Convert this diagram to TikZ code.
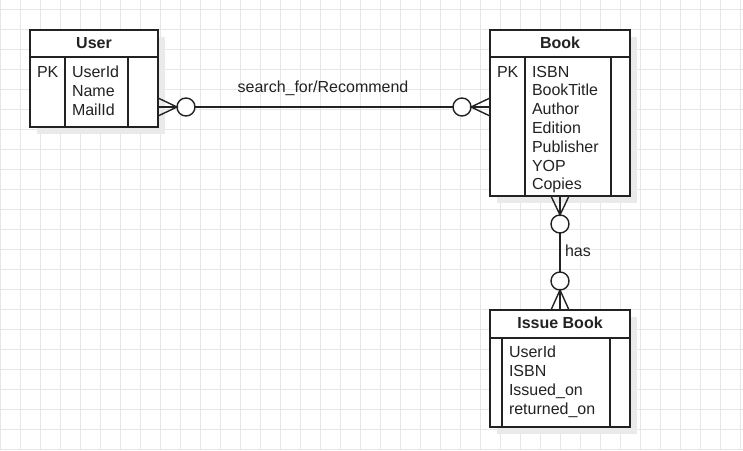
\documentclass[tikz,border=0pt]{standalone}
\usepackage{fontspec}
\setmainfont{Liberation Sans}
\usetikzlibrary{shadows}
\definecolor{gridc}{HTML}{E6E6E6}
\definecolor{linec}{HTML}{222222}
\definecolor{shadowc}{HTML}{EAEAEA}
\begin{document}
\begin{tikzpicture}[x=1pt,y=-1pt,
  every node/.style={font=\fontsize{16}{19}\selectfont, text=linec, inner sep=0pt, outer sep=0pt},
  ent/.style={draw=linec, line width=1.4pt, fill=white, anchor=north west,
    drop shadow={shadow xshift=7pt, shadow yshift=-7pt, fill=shadowc, opacity=1}},
  sep/.style={draw=linec, line width=1.4pt},
  conn/.style={draw=linec, line width=1.4pt},
  ring/.style={circle, draw=linec, line width=1.4pt, fill=white, minimum size=18pt},
  fld/.style={anchor=base west},
  hdr/.style={font=\fontsize{16}{19}\selectfont\bfseries}
]
\useasboundingbox (0,0) rectangle (743,450);
\fill[white] (0,0) rectangle (743,450);
% grid
\foreach \gx in {0,20,...,740} \draw[gridc, line width=0.8pt] (\gx,0) -- (\gx,450);
\foreach \gy in {9,29,...,449} \draw[gridc, line width=0.8pt] (0,\gy) -- (743,\gy);

% User entity
\node[ent, minimum width=128pt, minimum height=97pt] (user) at (30,30) {};
\draw[sep] ([yshift=-27pt]user.north west) -- ([yshift=-27pt]user.north east);
\draw[sep] ([xshift=35pt,yshift=-27pt]user.north west) -- ([xshift=35pt]user.south west);
\draw[sep] ([xshift=98pt,yshift=-27pt]user.north west) -- ([xshift=98pt]user.south west);
\node[hdr] (userh) at (94,43) {User};
\node[fld] (upk) at (37,77) {PK};
\node[fld] (u1) at (72,77) {UserId};
\node[fld] (u2) at (72,96) {Name};
\node[fld] (u3) at (72,115) {MailId};

% Book entity
\node[ent, minimum width=140pt, minimum height=166pt] (book) at (490,30) {};
\draw[sep] ([yshift=-27pt]book.north west) -- ([yshift=-27pt]book.north east);
\draw[sep] ([xshift=35pt,yshift=-27pt]book.north west) -- ([xshift=35pt]book.south west);
\draw[sep] ([xshift=121pt,yshift=-27pt]book.north west) -- ([xshift=121pt]book.south west);
\node[hdr] (bookh) at (560,43) {Book};
\node[fld] (bpk) at (497,77) {PK};
\node[fld] (b1) at (532,77) {ISBN};
\node[fld] (b2) at (532,95.8) {BookTitle};
\node[fld] (b3) at (532,114.6) {Author};
\node[fld] (b4) at (532,133.4) {Edition};
\node[fld] (b5) at (532,152.2) {Publisher};
\node[fld] (b6) at (532,171) {YOP};
\node[fld] (b7) at (532,189.8) {Copies};

% Issue Book entity
\node[ent, minimum width=140pt, minimum height=117pt] (issue) at (490,310) {};
\draw[sep] ([yshift=-28pt]issue.north west) -- ([yshift=-28pt]issue.north east);
\draw[sep] ([xshift=12pt,yshift=-28pt]issue.north west) -- ([xshift=12pt]issue.south west);
\draw[sep] ([xshift=120pt,yshift=-28pt]issue.north west) -- ([xshift=120pt]issue.south west);
\node[hdr] (issueh) at (560,323) {Issue Book};
\node[fld] (i1) at (509,357) {UserId};
\node[fld] (i2) at (509,376) {ISBN};
\node[fld] (i3) at (509,395) {Issued\_on};
\node[fld] (i4) at (509,414) {returned\_on};

% User -- Book
\coordinate (ua) at ([yshift=-77pt]user.north east);
\coordinate (ba) at ([yshift=-77pt]book.north west);
\node[ring] (c1) at ([xshift=28pt]ua) {};
\node[ring] (c2) at ([xshift=-28pt]ba) {};
\draw[conn] (c1) -- (c2);
\draw[conn] ([yshift=9pt]ua) -- (c1.west) -- ([yshift=-9pt]ua);
\draw[conn] (ua) -- (c1.west);
\draw[conn] ([yshift=9pt]ba) -- (c2.east) -- ([yshift=-9pt]ba);
\draw[conn] (ba) -- (c2.east);
\node (l1) at (323,88) {search\_for/Recommend};

% Book -- Issue Book
\coordinate (bb) at (book.south);
\coordinate (ib) at (issue.north);
\node[ring] (c3) at ([yshift=-28pt]bb) {};
\node[ring] (c4) at ([yshift=29pt]ib) {};
\draw[conn] (c3) -- (c4);
\draw[conn] ([xshift=-9pt]bb) -- (c3.north) -- ([xshift=9pt]bb);
\draw[conn] (bb) -- (c3.north);
\draw[conn] ([xshift=-9pt]ib) -- (c4.south) -- ([xshift=9pt]ib);
\draw[conn] (ib) -- (c4.south);
\node[anchor=west] (l2) at (565,251) {has};
\end{tikzpicture}
\end{document}
